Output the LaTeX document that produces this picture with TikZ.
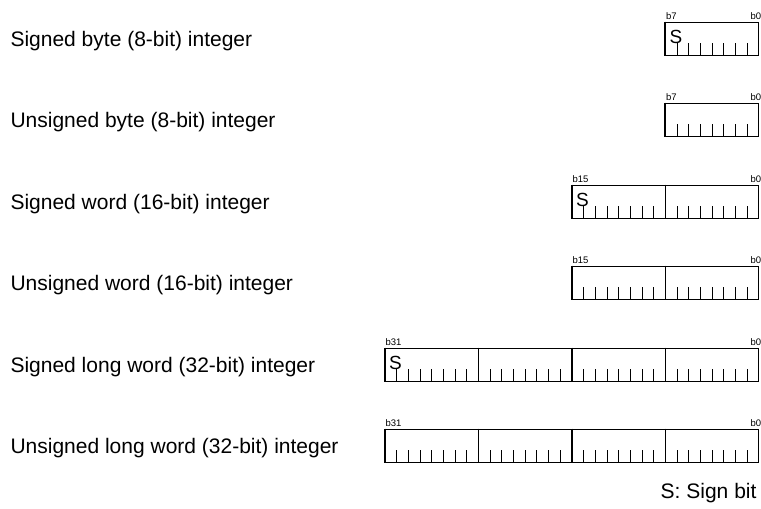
\documentclass[tikz,border=0pt]{standalone}
\usepackage{fontspec}
\setmainfont{Liberation Sans}
\usetikzlibrary{positioning}

\tikzset{
  desc/.style={anchor=west,inner sep=0pt,font=\fontsize{21}{25}\selectfont},
  regbox/.style={draw,anchor=north east,inner sep=0pt,minimum height=33pt},
  bitno/.style={anchor=base west,inner sep=0pt,font=\fontsize{9.5}{11}\selectfont},
  signbit/.style={anchor=base west,inner sep=0pt,font=\fontsize{19}{22}\selectfont}
}

\begin{document}
\begin{tikzpicture}[x=1pt,y=-1pt,line width=1.1pt]
  \useasboundingbox (0,0) rectangle (761,509);
  \foreach \i/\ty/\nb/\sg/\msb/\txt in {
    1/41/1/1/7/Signed byte (8-bit) integer,
    2/122/1/0/7/Unsigned byte (8-bit) integer,
    3/204/2/1/15/Signed word (16-bit) integer,
    4/285/2/0/15/Unsigned word (16-bit) integer,
    5/367/4/1/31/Signed long word (32-bit) integer,
    6/448/4/0/31/Unsigned long word (32-bit) integer}
  {
    \pgfmathsetmacro\lft{759-93.5*\nb}
    \pgfmathsetmacro\tp{\ty-19.5}
    \node[desc] (l\i) at (10,\ty) {\txt};
    \node[regbox,minimum width={93.5pt*\nb}] (r\i) at (759,\tp) {};
    \node[bitno] (m\i) at (\lft,\tp-2.5) {b\msb};
    \node[bitno] (z\i) at (750,\tp-2.5) {b0};
    \ifnum\sg=1
      \node[signbit] (s\i) at (\lft+3.5,\tp+22) {S};
    \fi
    % byte cells and bit ticks
    \foreach \b in {1,...,\nb} {
      \draw (\lft+93.5*\b-93.5,\tp) -- ++(0,33);
      \foreach \t in {1,...,7}
        \draw[line width=1pt] (\lft+93.5*\b-93.5+11.6875*\t,\tp+33) -- ++(0,-12);
    }
  }
  \node[desc,anchor=east] (key) at (757,493) {S: Sign bit};
\end{tikzpicture}
\end{document}
